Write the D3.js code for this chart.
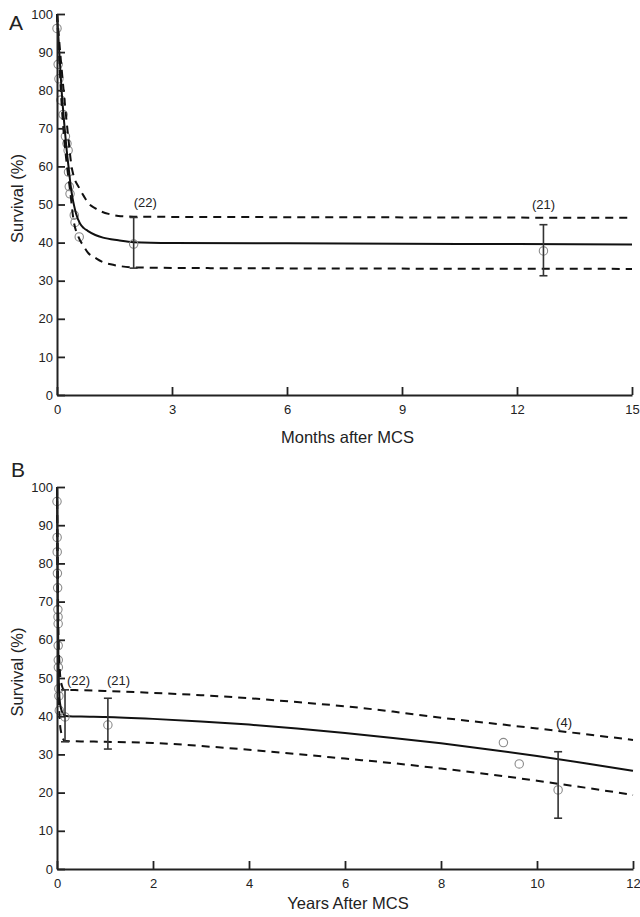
<!DOCTYPE html>
<html>
<head>
<meta charset="utf-8">
<script src="https://cdn.jsdelivr.net/npm/d3@7/dist/d3.min.js"></script>
<style>
  html, body { margin: 0; padding: 0; background: #fff; }
  svg { display: block; }
  text { font-family: "Liberation Sans", Arial, Helvetica, sans-serif; fill: #222; }
</style>
</head>
<body>
<svg id="chart" width="640" height="917"></svg>
<script>
// ---------------- DATA ----------------
const survivalTicks = [0, 10, 20, 30, 40, 50, 60, 70, 80, 90, 100];
const monthTicks = [0, 3, 6, 9, 12, 15];
const yearTicks = [0, 2, 4, 6, 8, 10, 12];

// Kaplan-Meier observed points (early deaths), months
const kmMonths = [0.0, 0.03, 0.05, 0.10, 0.16, 0.22, 0.26, 0.29, 0.30, 0.32, 0.34, 0.45, 0.47, 0.58];
const kmSurvival = [96.2, 86.8, 83.0, 77.4, 73.6, 67.9, 66.0, 64.2, 58.5, 54.7, 52.8, 47.2, 45.3, 41.5];

// Panel A: parametric fit (months)
const fitA_t = [0, 0.06, 0.12, 0.2, 0.25, 0.3, 0.35, 0.4, 0.45, 0.5, 0.6, 0.7, 0.8, 1.0, 1.2, 1.6, 2.0, 3, 6, 9, 12, 15];
const fitA_s = [100, 90, 80, 70, 64.5, 60, 55.5, 52, 49.5, 47.5, 45, 43.8, 43.1, 42, 41.3, 40.6, 40.1, 39.9, 39.8, 39.7, 39.6, 39.5];
const upperA_t = [0, 0.1, 0.2, 0.3, 0.38, 0.45, 0.56, 0.7, 0.82, 1.0, 1.17, 1.4, 1.6, 2.0, 5, 10, 15];
const upperA_s = [100, 88, 77, 67, 60, 57, 54.7, 52.2, 50.3, 49, 48.1, 47.4, 47, 46.8, 46.7, 46.6, 46.5];
const lowerA_t = [0, 0.05, 0.1, 0.15, 0.2, 0.25, 0.34, 0.43, 0.56, 0.7, 0.82, 1.0, 1.17, 1.4, 1.6, 2.0, 4, 15];
const lowerA_s = [100, 90, 80, 72, 66, 61, 53.8, 46, 41.5, 39, 37.2, 36, 35, 34.3, 33.9, 33.5, 33.3, 33.1];

// Panel A error bars (months)
const barsA_t = [2.0, 12.69];
const barsA_s = [39.6, 37.8];
const barsA_lo = [33.3, 31.3];
const barsA_hi = [46.6, 44.7];
const barsA_n = ["(22)", "(21)"];

// Panel B: parametric fit (years)
const fitB_t = [0, 0.005, 0.01, 0.017, 0.025, 0.033, 0.042, 0.05, 0.067, 0.083, 0.1, 0.133, 0.167, 0.25, 0.5, 1, 2, 3, 4, 5, 6, 7, 8, 9, 10, 11, 12];
const fitB_s = [100, 90, 80, 70, 60, 52, 47.5, 45, 43.1, 42, 41.3, 40.6, 40.1, 40, 39.9, 39.8, 39.3, 38.6, 37.8, 36.8, 35.6, 34.3, 32.9, 31.3, 29.6, 27.7, 25.7];
const upperB_t = [0, 0.008, 0.017, 0.025, 0.032, 0.047, 0.058, 0.068, 0.083, 0.1, 0.133, 0.167, 0.5, 1, 2, 3, 4, 5, 6, 7, 8, 9, 10, 11, 12];
const upperB_s = [100, 88, 77, 67, 60, 54.7, 52.2, 50.3, 49, 48.1, 47, 46.9, 46.8, 46.6, 46.1, 45.5, 44.7, 43.7, 42.6, 41.2, 39.6, 38.2, 36.8, 35.3, 33.8];
const lowerB_t = [0, 0.004, 0.008, 0.0125, 0.017, 0.021, 0.028, 0.036, 0.047, 0.058, 0.068, 0.083, 0.1, 0.133, 0.167, 0.5, 1, 2, 3, 4, 5, 6, 7, 8, 9, 10, 11, 12];
const lowerB_s = [100, 90, 80, 72, 66, 61, 53.8, 46, 41.5, 39, 37.2, 36, 35, 33.9, 33.5, 33.4, 33.3, 33, 32.2, 31.2, 30.1, 28.9, 27.7, 26.3, 24.8, 23.1, 21.3, 19.4];

// Panel B late observed points (years)
const lateB_t = [9.3, 9.63];
const lateB_s = [33.1, 27.5];

// Panel B error bars (years)
const barsB_t = [0.167, 1.06, 10.44];
const barsB_s = [39.8, 37.7, 20.7];
const barsB_lo = [33.3, 31.4, 13.3];
const barsB_hi = [46.9, 44.7, 30.7];
const barsB_n = ["(22)", "(21)", "(4)"];

// ---------------- DRAW ----------------
const svg = d3.select("#chart");
const zip = (a, b) => a.map((v, i) => [v, b[i]]);

function drawPanel(cfg) {
  const x = d3.scaleLinear().domain(cfg.xDomain).range([cfg.left, cfg.right]);
  const y = d3.scaleLinear().domain([0, 100]).range([cfg.bottom, cfg.top]);
  const g = svg.append("g");

  // observed circles
  g.selectAll("circle.km")
    .data(cfg.points)
    .join("circle")
    .attr("cx", d => x(d[0]))
    .attr("cy", d => y(d[1]))
    .attr("r", 4.2)
    .attr("fill", "none")
    .attr("stroke", "#8a8a8a")
    .attr("stroke-width", 1.1);

  const line = d3.line().x(d => x(d[0])).y(d => y(d[1])).curve(d3.curveMonotoneX);

  cfg.dashed.forEach(series => {
    g.append("path")
      .attr("d", line(series))
      .attr("fill", "none")
      .attr("stroke", "#111")
      .attr("stroke-width", 2)
      .attr("stroke-dasharray", "8,6");
  });
  g.append("path")
    .attr("d", line(cfg.fit))
    .attr("fill", "none")
    .attr("stroke", "#111")
    .attr("stroke-width", 2);

  // error bars
  cfg.bars.forEach((b, i) => {
    const bx = x(b.t);
    g.append("circle")
      .attr("cx", bx).attr("cy", y(b.s)).attr("r", 4.2)
      .attr("fill", "none").attr("stroke", "#8a8a8a").attr("stroke-width", 1.1);
    g.append("line").attr("x1", bx).attr("x2", bx).attr("y1", y(b.lo)).attr("y2", y(b.hi))
      .attr("stroke", "#333").attr("stroke-width", 1.6);
    [b.lo, b.hi].forEach(v => {
      g.append("line").attr("x1", bx - 4).attr("x2", bx + 4).attr("y1", y(v)).attr("y2", y(v))
        .attr("stroke", "#333").attr("stroke-width", 1.6);
    });
    const lab = cfg.labelPos[i];
    g.append("text")
      .attr("x", bx + lab.dx)
      .attr("y", y(b.hi) + lab.dy)
      .attr("text-anchor", lab.anchor)
      .attr("font-size", 13)
      .text(b.n);
  });

  // axes
  const yAxis = d3.axisLeft(y).tickValues(survivalTicks).tickSize(-8).tickPadding(4).tickSizeOuter(0);
  const xAxis = d3.axisBottom(x).tickValues(cfg.xTicks).tickSize(-8).tickPadding(10).tickSizeOuter(0);
  const ya = g.append("g").attr("transform", `translate(${cfg.left},0)`).call(yAxis);
  const xa = g.append("g").attr("transform", `translate(0,${cfg.bottom})`).call(xAxis);
  [ya, xa].forEach(a => {
    a.select(".domain").attr("stroke", "#222").attr("stroke-width", 2);
    a.selectAll(".tick line").attr("stroke", "#222").attr("stroke-width", 1.8);
    a.selectAll(".tick text").attr("font-size", 13).attr("fill", "#222")
      .attr("font-family", "'Liberation Sans', Arial, sans-serif");
  });

  // axis titles
  g.append("text")
    .attr("x", (cfg.left + cfg.right) / 2 + 3)
    .attr("y", cfg.bottom + cfg.titleOffset)
    .attr("text-anchor", "middle")
    .attr("font-size", 16.5)
    .text(cfg.xTitle);
  g.append("text")
    .attr("transform", `translate(23,${(cfg.top + cfg.bottom) / 2 - 6}) rotate(-90)`)
    .attr("text-anchor", "middle")
    .attr("font-size", 16.5)
    .text("Survival (%)");

  // panel letter
  g.append("text")
    .attr("x", cfg.letterX).attr("y", cfg.letterY)
    .attr("font-size", 21)
    .text(cfg.letter);
}

const makeBars = (t, s, lo, hi, n) => t.map((v, i) => ({ t: v, s: s[i], lo: lo[i], hi: hi[i], n: n[i] }));

drawPanel({
  letter: "A", letterX: 9, letterY: 30,
  left: 57, right: 632, top: 14, bottom: 395, titleOffset: 48,
  xDomain: [0, 15], xTicks: monthTicks, xTitle: "Months after MCS",
  points: zip(kmMonths, kmSurvival),
  fit: zip(fitA_t, fitA_s),
  dashed: [zip(upperA_t, upperA_s), zip(lowerA_t, lowerA_s)],
  bars: makeBars(barsA_t, barsA_s, barsA_lo, barsA_hi, barsA_n),
  labelPos: [{ dx: 0, dy: -10, anchor: "start" }, { dx: 0, dy: -16, anchor: "middle" }]
});

drawPanel({
  letter: "B", letterX: 11, letterY: 477,
  left: 57, right: 633, top: 487, bottom: 869, titleOffset: 40,
  xDomain: [0, 12], xTicks: yearTicks, xTitle: "Years After MCS",
  points: zip(kmMonths.map(m => m / 12), kmSurvival).concat(zip(lateB_t, lateB_s)),
  fit: zip(fitB_t, fitB_s),
  dashed: [zip(upperB_t, upperB_s), zip(lowerB_t, lowerB_s)],
  bars: makeBars(barsB_t, barsB_s, barsB_lo, barsB_hi, barsB_n),
  labelPos: [{ dx: 2, dy: -5, anchor: "start" }, { dx: -1, dy: -13, anchor: "start" }, { dx: -2, dy: -25, anchor: "start" }]
});
</script>
</body>
</html>
